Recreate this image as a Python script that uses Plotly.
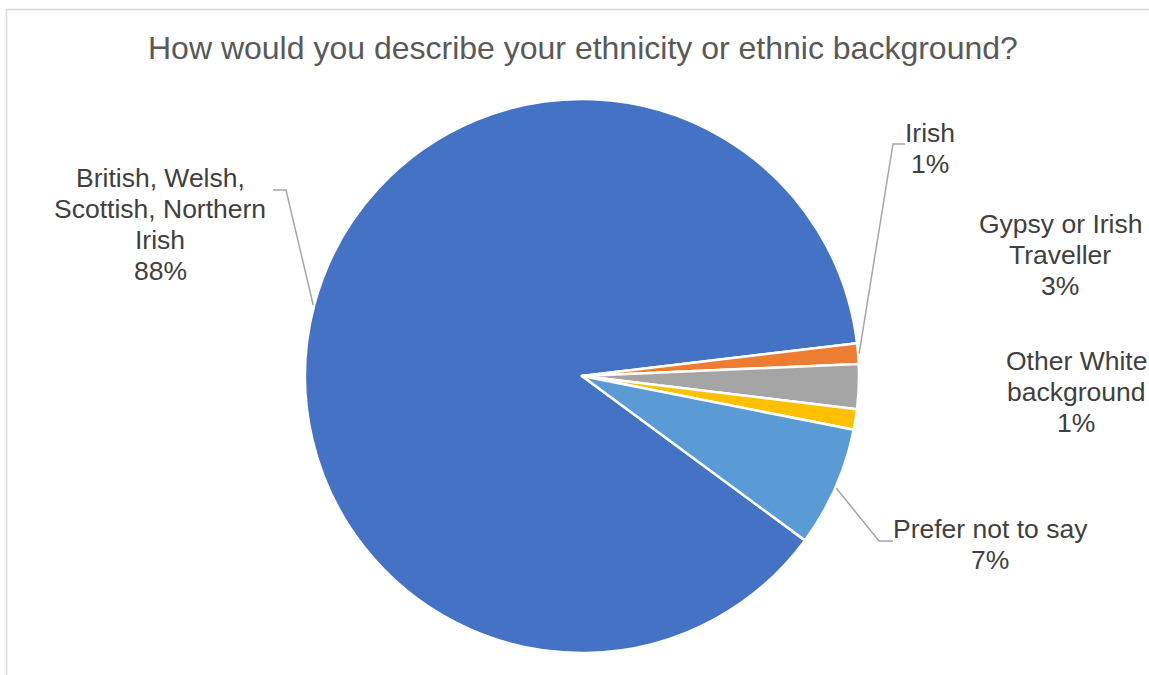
import math
import plotly.graph_objects as go

# ---- data ----
categories = ["British, Welsh, Scottish, Northern Irish", "Irish", "Gypsy or Irish Traveller",
              "Other White background", "Prefer not to say"]
label_lines = [["British, Welsh,", "Scottish, Northern", "Irish"], ["Irish"],
               ["Gypsy or Irish", "Traveller"], ["Other White", "background"], ["Prefer not to say"]]
values = [88.0, 1.2, 2.6, 1.2, 7.0]
colors = ["#4472C4", "#ED7D31", "#A5A5A5", "#FFC000", "#5B9BD5"]
title_text = "How would you describe your ethnicity or ethnic background?"

# ---- layout constants (pixels) ----
W, H = 1149, 675
CX, CY, R = 582, 376, 277
ROT = 126.4
FONT = "Liberation Sans, Arial, sans-serif"

def px_x(x):
    return x / W

def px_y(y):
    return 1 - y / H

fig = go.Figure(go.Pie(
    labels=categories, values=values, sort=False, direction="clockwise", rotation=ROT,
    marker=dict(colors=colors, line=dict(color="white", width=2.5)),
    textinfo="none", hoverinfo="label+percent", showlegend=False,
    domain=dict(x=[px_x(CX - R), px_x(CX + R)], y=[px_y(CY + R), px_y(CY - R)]),
))

total = sum(values)
pcts = [f"{int(v / total * 100 + 0.5)}%" for v in values]

# label placement: (center x, first line y, leader (elbow x, elbow y, end x))
label_pos = [
    (160, 178, (286, 190, 273)),
    (930, 133, (893, 144, 905)),
    (1060, 224, None),
    (1076, 361, None),
    (990, 529, (879, 541, 893)),
]
LINE = 31

annotations = [dict(text=title_text, x=px_x(583), y=px_y(48), xref="paper", yref="paper",
                    showarrow=False, xanchor="center", yanchor="middle",
                    font=dict(family=FONT, size=32, color="#595959"))]
shapes = []

cum = 0.0
for i, v in enumerate(values):
    mid = ROT + (cum + v / 2) / total * 360
    cum += v
    cx, ly, leader = label_pos[i]
    lines = label_lines[i] + [pcts[i]]
    for k, t in enumerate(lines):
        annotations.append(dict(text=t, x=px_x(cx), y=px_y(ly + k * LINE), xref="paper", yref="paper",
                                showarrow=False, xanchor="center", yanchor="middle",
                                font=dict(family=FONT, size=26.5, color="#404040")))
    if leader:
        a = math.radians(mid)
        ax = CX + (R + 1) * math.sin(a)
        ay = CY - (R + 1) * math.cos(a)
        ex, ey, endx = leader
        path = f"M {px_x(ax)} {px_y(ay)} L {px_x(ex)} {px_y(ey)} L {px_x(endx)} {px_y(ey)}"
        shapes.append(dict(type="path", path=path, xref="paper", yref="paper",
                           line=dict(color="#A6A6A6", width=1.5)))

# chart border
shapes.append(dict(type="rect", xref="paper", yref="paper", x0=px_x(6.5), x1=px_x(1200),
                   y0=px_y(720), y1=px_y(9.5), line=dict(color="#D9D9D9", width=1.5)))

fig.update_layout(width=W, height=H, margin=dict(l=0, r=0, t=0, b=0),
                  paper_bgcolor="white", plot_bgcolor="white",
                  annotations=annotations, shapes=shapes)

fig.write_html("out.html", config={"displayModeBar": False},
               post_script="document.body.style.margin='0';document.body.style.overflow='hidden';")
